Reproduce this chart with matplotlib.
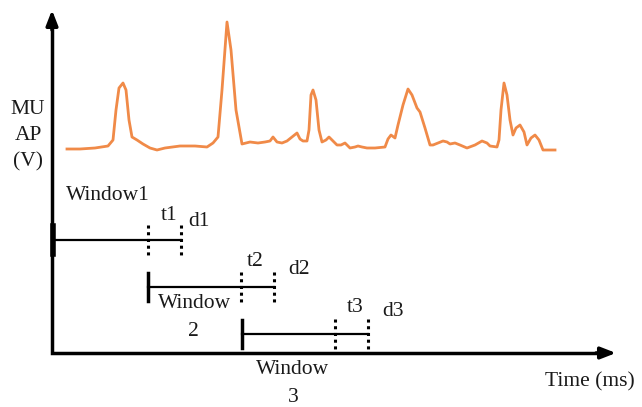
import matplotlib
matplotlib.use("Agg")
import matplotlib.pyplot as plt

# MUAP trace (pixel coordinates, y downwards)
sig_x = [67, 80, 95, 108, 113, 116, 119, 123, 126, 129, 132, 137, 143, 150, 157,
         165, 180, 195, 207, 213, 218, 222, 227, 231, 236, 242, 250, 258, 265,
         270, 273, 277, 282, 287, 292, 297, 300, 303, 307, 309, 311, 313, 316,
         319, 322, 326, 329, 333, 337, 341, 345, 350, 355, 358, 362, 367, 375,
         385, 388, 391, 395, 398, 403, 408, 412, 417, 420, 425, 430, 433, 438,
         443, 447, 450, 455, 460, 467, 475, 482, 487, 490, 497, 499, 501, 504,
         507, 510, 513, 516, 520, 524, 527, 531, 535, 539, 543, 550, 555]
sig_y = [149, 149, 148, 146, 140, 110, 88, 83, 90, 120, 137, 140, 144, 148, 150,
         148, 146, 146, 147, 143, 137, 90, 22, 50, 110, 144, 142, 143, 142,
         141, 137, 142, 143, 141, 137, 133, 139, 141, 141, 130, 95, 90, 100,
         130, 142, 140, 137, 141, 145, 145, 143, 148, 147, 146, 147, 148, 148,
         147, 139, 135, 138, 125, 105, 89, 95, 108, 112, 128, 145, 145, 143,
         141, 142, 144, 143, 145, 148, 145, 141, 143, 146, 147, 140, 110, 83,
         95, 120, 135, 128, 125, 132, 145, 138, 135, 140, 150, 150, 150]

# windows: start, t mark, d mark, line level
win_start = [53, 148, 242]
win_t = [148, 241, 335]
win_d = [181, 274, 368]
win_y = [240, 287, 334]
win_lw = [4.0, 2.5, 2.5]

labels_t = ["t1", "t2", "t3"]
labels_d = ["d1", "d2", "d3"]

W, H = 642, 407
fig = plt.figure(figsize=(W / 100, H / 100), dpi=100)
ax = fig.add_axes([0, 0, 1, 1])
ax.set_xlim(0, W)
ax.set_ylim(H, 0)
ax.axis("off")

FONT = "Liberation Serif"
TXT = "#1a1a1a"
FS = 15.5

ax.plot(sig_x, sig_y, color="#F08A48", lw=2.0, solid_joinstyle="round")

# axes: plain lines + arrow heads
ax.plot([52, 52, 600], [24, 353, 353], color="black", lw=2.5,
        solid_joinstyle="miter", solid_capstyle="butt")
arrow = dict(arrowstyle="-|>,head_length=0.9,head_width=0.35",
             color="black", lw=2.5, shrinkA=0, shrinkB=0)
ax.annotate("", xy=(52, 10), xytext=(52, 30), arrowprops=arrow)
ax.annotate("", xy=(616, 353), xytext=(596, 353), arrowprops=arrow)

for s, t, d, y, lw in zip(win_start, win_t, win_d, win_y, win_lw):
    ax.plot([s, d], [y, y], color="black", lw=1.6)
    ax.plot([s, s], [y - 14, y + 14], color="black", lw=lw)
    for xv in (t, d):
        ax.plot([xv, xv], [y - 15, y + 15], color="black", lw=2.2,
                linestyle=(0, (1, 1.2)))

kw = dict(family=FONT, fontsize=FS, color=TXT, ha="center", va="center")
ax.text(108, 195, "Window1", **kw)
ax.text(195, 303, "Window", **kw)
ax.text(193, 332, "2", **kw)
ax.text(293, 370, "Window", **kw)
ax.text(293, 397, "3", **kw)

t_pos = [(169, 216), (255, 261), (355, 307)]
d_pos = [(199, 222), (299, 269), (393, 311)]
for lab, (x, y) in zip(labels_t, t_pos):
    ax.text(x, y, lab, **kw)
for lab, (x, y) in zip(labels_d, d_pos):
    ax.text(x, y, lab, **kw)

ax.text(28, 110, "MU", **kw)
ax.text(28, 135, "AP", **kw)
ax.text(28, 162, "(V)", **kw)
ax.text(590, 382, "Time (ms)", **kw)

fig.savefig("out.png", dpi=100)
